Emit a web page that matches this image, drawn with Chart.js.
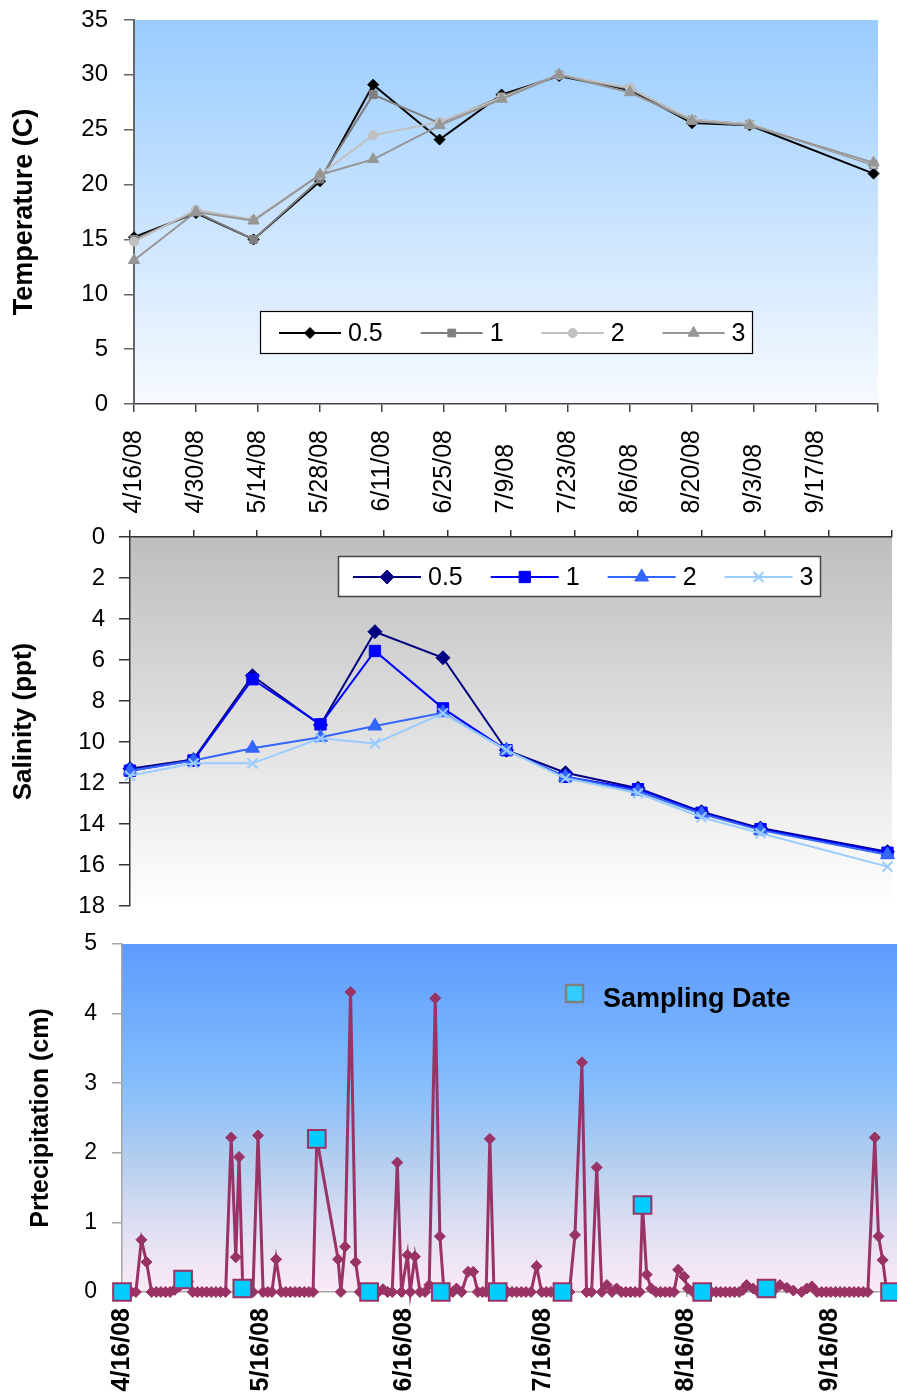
<!DOCTYPE html>
<html>
<head>
<meta charset="utf-8">
<script src="https://cdn.jsdelivr.net/npm/chart.js@4.4.1/dist/chart.umd.min.js"></script>
<style>
html,body{margin:0;padding:0;background:#fff;width:897px;height:1398px;overflow:hidden}
canvas{position:absolute;left:0}
</style>
</head>
<body>
<canvas id="cTemp" width="897" height="530" style="top:0px"></canvas>
<canvas id="cSal" width="897" height="395" style="top:525px"></canvas>
<canvas id="cPrec" width="897" height="468" style="top:930px"></canvas>
<script>
// ---------------- DATA ----------------
const depthLabels = ['0.5', '1', '2', '3'];
const sampleDates = ['2008-04-16','2008-04-30','2008-05-13','2008-05-28','2008-06-09','2008-06-24',
                     '2008-07-08','2008-07-21','2008-08-06','2008-08-20','2008-09-02','2008-09-30'];

const temp05 = [15.2, 17.4, 15.0, 20.3, 29.1, 24.1, 28.2, 29.9, 28.6, 25.6, 25.4, 21.0];
const temp1  = [15.0, 17.5, 15.0, 20.5, 28.2, 25.6, 28.0, 30.0, 28.7, 25.9, 25.5, 21.8];
const temp2  = [14.8, 17.7, 16.8, 20.9, 24.5, 25.7, 27.9, 30.0, 28.8, 25.9, 25.5, 21.9];
const temp3  = [13.1, 17.5, 16.7, 20.9, 22.3, 25.4, 27.8, 30.0, 28.4, 25.8, 25.4, 22.0];

const sal05 = [11.3, 10.85, 6.77, 9.17, 4.62, 5.89, 10.4, 11.5, 12.26, 13.4, 14.2, 15.35];
const sal1  = [11.4, 10.9, 6.94, 9.14, 5.56, 8.36, 10.4, 11.7, 12.3, 13.45, 14.25, 15.4];
const sal2  = [11.4, 10.9, 10.3, 9.77, 9.22, 8.57, 10.4, 11.7, 12.4, 13.5, 14.3, 15.5];
const sal3  = [11.65, 11.04, 11.04, 9.82, 10.07, 8.6, 10.4, 11.77, 12.5, 13.67, 14.45, 16.08];

const tempTickLabels = ['4/16/08','4/30/08','5/14/08','5/28/08','6/11/08','6/25/08',
                        '7/9/08','7/23/08','8/6/08','8/20/08','9/3/08','9/17/08'];
const tempAxisEnd = '10/1/08';

// precipitation: days after 4/16/08 and values (cm)
const precipDay = [0,1,2,3,4.2,5.3,6.4,7.4,8.4,9.4,10.4,11.4,12.4,13.3,14.3,15.3,16.3,17.3,18.3,19.3,20.3,21.3,22.4,
  23.6,24.6,25.3,26.1,27.2,28.3,29.4,30.5,31.5,32.4,33.3,34.4,35.4,36.4,37.4,38.4,39.4,40.4,41.3,42.1,
  46.7,47.3,48.2,49.4,50.5,51.4,52.4,53.4,54.4,55.4,56.4,57.4,58.4,59.5,60.4,61.7,62.3,63.3,64.4,65.5,66.4,67.7,68.7,
  69.6,70.6,71.5,72.3,73.4,74.8,75.9,76.9,77.9,78.7,79.5,80.4,81.3,82.3,83.3,84.3,85.3,86.3,87.3,88.4,89.6,
  90.7,91.7,92.7,93.7,94.7,95.6,96.7,97.9,99.4,100.4,101.5,102.6,103.7,104.8,105.9,106.9,107.9,108.9,109.9,110.9,111.9,
  112.5,113.4,114.4,115.4,116.4,117.4,118.4,119.3,120.2,121.5,122.3,123.4,124.4,125.4,126.4,127.4,128.4,129.4,130.4,
  131.4,132.4,133.4,134.2,135.0,136.4,137.5,138.4,139.3,140.8,142.2,143.7,145.1,146.9,148.0,149.1,150.2,151.2,152.2,
  153.2,154.2,155.2,156.2,157.2,158.2,159.2,160.2,161.2,162.7,163.5,164.4,165.3,166.0];
const precipCm = [0,0,0,0,0.75,0.43,0,0,0,0,0,0.03,0.08,0.18,0.15,0,0,0,0,0,0,0,0,
  2.22,0.5,1.94,0.05,0,0,2.25,0,0,0,0.47,0,0,0,0,0,0,0,0,2.2,
  0.47,0,0.65,4.31,0.43,0,0,0,0,0,0.04,0,0,1.86,0,0.53,0,0.51,0,0,0.1,4.22,0.8,
  0,0,0,0.05,0,0.29,0.29,0,0,0,2.2,0,0,0,0,0,0,0,0,0,0.37,
  0,0,0,0,0,0,0,0.82,3.3,0,0,1.79,0,0.1,0,0.05,0,0,0,0,0,
  1.25,0.25,0.05,0,0,0,0,0,0.32,0.22,0.05,0,0,0,0,0,0,0,0,
  0,0,0,0.03,0.1,0.05,0,0,0.05,0.02,0.1,0.06,0.02,0,0.05,0.08,0,0,0,
  0,0,0,0,0,0,0,0,0,2.22,0.8,0.46,0,0];
const precipSampleDay = [0, 13.2, 26, 42.1, 53.4, 68.9, 81.2, 95.2, 112.5, 125.4, 139.3, 166];
const precipSampleCm  = [0, 0.18, 0.05, 2.2, 0, 0, 0, 0, 1.25, 0, 0.05, 0];
const precipTickLabels = ['4/16/08','5/16/08','6/16/08','7/16/08','8/16/08','9/16/08'];
const precipAxisEndDay = 167.5;

// ---------------- HELPERS ----------------
const BASE = Date.UTC(2008, 3, 16);
function dayOf(s) {
  let y, m, d;
  if (s.indexOf('-') >= 0) { [y, m, d] = s.split('-').map(Number); }
  else { [m, d, y] = s.split('/').map(Number); y += 2000; }
  return Math.round((Date.UTC(y, m - 1, d) - BASE) / 86400000);
}
const sampleDays = sampleDates.map(dayOf);
const tempTickDays = tempTickLabels.map(dayOf);
const tempEnd = dayOf(tempAxisEnd);
const precipTickDays = precipTickLabels.map(dayOf);
const padLabel = (s, n) => s + '  '.repeat(Math.max(0, n - s.length));
const tempLabelLen = Math.max(...tempTickLabels.map(s => s.length));

Chart.defaults.font.family = "'Liberation Sans', Arial, sans-serif";
Chart.defaults.color = '#000';
Chart.defaults.animation = false;
Chart.defaults.responsive = false;
Chart.defaults.devicePixelRatio = 1;
Chart.defaults.events = [];
Chart.defaults.plugins.legend.display = false;
Chart.defaults.plugins.tooltip.enabled = false;

function bgPlugin(stops) {
  return { id: 'plotBg', beforeDraw(chart) {
    const {ctx, chartArea: a} = chart;
    const g = ctx.createLinearGradient(0, a.top, 0, a.bottom);
    stops.forEach(s => g.addColorStop(s[0], s[1]));
    ctx.save(); ctx.fillStyle = g;
    ctx.fillRect(a.left, a.top, a.right - a.left, a.bottom - a.top);
    ctx.restore();
  }};
}

function drawMarker(ctx, style, r, bw, x, y) {
  if (Chart.helpers && Chart.helpers.drawPoint) {
    Chart.helpers.drawPoint(ctx, {pointStyle: style, radius: r, borderWidth: bw, rotation: 0}, x, y);
  } else {
    ctx.beginPath(); ctx.arc(x, y, r, 0, Math.PI * 2); ctx.fill(); ctx.stroke();
  }
}

function lineLegendPlugin(cfg) {
  return { id: 'lineLegend', afterDraw(chart) {
    const ctx = chart.ctx, b = cfg.box;
    ctx.save();
    ctx.fillStyle = '#fff';
    ctx.fillRect(b.x, b.y, b.w, b.h);
    ctx.strokeStyle = cfg.borderColor; ctx.lineWidth = cfg.borderWidth;
    ctx.strokeRect(b.x + 0.5, b.y + 0.5, b.w, b.h);
    ctx.font = cfg.font; ctx.textBaseline = 'middle'; ctx.textAlign = 'left';
    let x = b.x + cfg.padLeft;
    const cy = b.y + b.h / 2 + 1;
    chart.data.datasets.forEach(ds => {
      ctx.strokeStyle = ds.borderColor; ctx.lineWidth = ds.borderWidth;
      ctx.beginPath(); ctx.moveTo(x, cy); ctx.lineTo(x + cfg.lineLen, cy); ctx.stroke();
      ctx.fillStyle = ds.pointBackgroundColor; ctx.strokeStyle = ds.pointBorderColor;
      ctx.lineWidth = ds.pointBorderWidth;
      drawMarker(ctx, ds.pointStyle, ds.pointRadius, ds.pointBorderWidth, x + cfg.lineLen / 2, cy);
      x += cfg.lineLen + cfg.textGap;
      ctx.fillStyle = '#000';
      ctx.fillText(ds.label, x, cy + 1);
      x += ctx.measureText(ds.label).width + cfg.gap;
    });
    ctx.restore();
  }};
}

function seriesDatasets(values, styles, lw) {
  return depthLabels.map((lab, i) => ({
    label: lab,
    data: sampleDays.map((x, j) => ({x: x, y: values[i][j]})),
    borderColor: styles[i].color, backgroundColor: styles[i].color,
    pointBackgroundColor: styles[i].color, pointBorderColor: styles[i].color,
    pointStyle: styles[i].point, pointRadius: styles[i].r, pointBorderWidth: styles[i].bw,
    borderWidth: lw, tension: 0, fill: false, clip: false,
    order: depthLabels.length - i
  }));
}

// ---------------- CHART 1: TEMPERATURE ----------------
const tempStyle = [
  {color: '#000000', point: 'rectRot', r: 5.5, bw: 1},
  {color: '#808080', point: 'rect', r: 5.5, bw: 1},
  {color: '#C0C0C0', point: 'circle', r: 4.5, bw: 1},
  {color: '#969696', point: 'triangle', r: 6.5, bw: 1}
];
new Chart(document.getElementById('cTemp'), {
  type: 'line',
  data: { datasets: seriesDatasets([temp05, temp1, temp2, temp3], tempStyle, 2) },
  options: {
    layout: {autoPadding: false, padding: {top: 20, right: 19, bottom: 0, left: 0}},
    scales: {
      x: {
        type: 'linear', min: 0, max: tempEnd,
        afterBuildTicks: ax => { ax.ticks = tempTickDays.concat([tempEnd]).map(v => ({value: v})); },
        afterFit: ax => { ax.height = 126; ax.paddingLeft = 0; ax.paddingRight = 0; },
        ticks: {
          autoSkip: false, minRotation: 90, maxRotation: 90, padding: 18, font: {size: 25},
          callback: v => { const k = tempTickDays.indexOf(v); return k < 0 ? '' : padLabel(tempTickLabels[k], tempLabelLen); }
        },
        grid: {drawOnChartArea: false, tickLength: 8, color: '#444', lineWidth: 1.5},
        border: {color: '#444', width: 1.5}
      },
      y: {
        min: 0, max: 35,
        afterFit: ax => { ax.width = 134; ax.paddingTop = 0; ax.paddingBottom = 0; },
        ticks: {stepSize: 5, padding: 16, font: {size: 24}},
        grid: {drawOnChartArea: false, tickLength: 10, color: '#666', lineWidth: 1.5},
        border: {color: '#666', width: 2},
        title: {display: true, text: 'Temperature (C)', font: {size: 27, weight: 'bold'}, padding: {top: 8, bottom: 0}}
      }
    }
  },
  plugins: [
    bgPlugin([[0, '#99CCFF'], [1, '#F7FAFF']]),
    lineLegendPlugin({box: {x: 260, y: 311, w: 492, h: 42}, padLeft: 19, lineLen: 62, textGap: 7, gap: 38,
                      font: "25px 'Liberation Sans', Arial, sans-serif", borderColor: '#000', borderWidth: 1.2})
  ]
});

// ---------------- CHART 2: SALINITY ----------------
const salStyle = [
  {color: '#000080', point: 'rectRot', r: 7, bw: 1},
  {color: '#0000FF', point: 'rect', r: 8, bw: 1},
  {color: '#3366FF', point: 'triangle', r: 8, bw: 1},
  {color: '#99CCFF', point: 'crossRot', r: 7, bw: 2}
];
new Chart(document.getElementById('cSal'), {
  type: 'line',
  data: { datasets: seriesDatasets([sal05, sal1, sal2, sal3], salStyle, 2) },
  options: {
    layout: {autoPadding: false, padding: {top: 0, right: 5, bottom: 14, left: 0}},
    scales: {
      x: {
        type: 'linear', position: 'top', min: 0, max: tempEnd,
        afterBuildTicks: ax => { ax.ticks = tempTickDays.concat([tempEnd]).map(v => ({value: v})); },
        afterFit: ax => { ax.height = 12; ax.paddingLeft = 0; ax.paddingRight = 0; },
        ticks: {display: false},
        grid: {drawOnChartArea: false, tickLength: 7, color: '#333', lineWidth: 1.5},
        border: {color: '#333', width: 1.5}
      },
      y: {
        reverse: true, min: 0, max: 18,
        afterFit: ax => { ax.width = 130; ax.paddingTop = 0; ax.paddingBottom = 0; },
        ticks: {stepSize: 2, padding: 14, font: {size: 24}},
        grid: {drawOnChartArea: false, tickLength: 11, color: '#333', lineWidth: 1.5},
        border: {color: '#333', width: 1.5},
        title: {display: true, text: 'Salinity (ppt)', font: {size: 26, weight: 'bold'}, padding: {top: 8, bottom: 0}}
      }
    }
  },
  plugins: [
    bgPlugin([[0, '#BEBEBE'], [1, '#FFFFFF']]),
    lineLegendPlugin({box: {x: 338, y: 31, w: 482, h: 40}, padLeft: 15, lineLen: 68, textGap: 7, gap: 28,
                      font: "25px 'Liberation Sans', Arial, sans-serif", borderColor: '#444', borderWidth: 1.5})
  ]
});

// ---------------- CHART 3: PRECIPITATION ----------------
const precipLegendPlugin = {
  id: 'precipLegend',
  afterDraw(chart) {
    const ctx = chart.ctx;
    const ds = chart.data.datasets[1];
    ctx.save();
    ctx.fillStyle = '#33CCFF'; ctx.strokeStyle = '#808080'; ctx.lineWidth = 2.5;
    ctx.fillRect(566, 55, 17, 17); ctx.strokeRect(566, 55, 17, 17);
    ctx.fillStyle = '#000'; ctx.textBaseline = 'middle'; ctx.textAlign = 'left';
    ctx.font = "bold 27px 'Liberation Sans', Arial, sans-serif";
    ctx.fillText(ds.label, 603, 70);
    ctx.restore();
  }
};
new Chart(document.getElementById('cPrec'), {
  type: 'line',
  data: { datasets: [
    { label: 'Precipitation',
      data: precipDay.map((x, i) => ({x: x, y: precipCm[i]})),
      borderColor: '#993366', backgroundColor: '#993366',
      pointBackgroundColor: '#993366', pointBorderColor: '#993366',
      pointStyle: 'rectRot', pointRadius: 5.5, pointBorderWidth: 1,
      borderWidth: 3, tension: 0, fill: false, clip: false, order: 1 },
    { label: 'Sampling Date',
      data: precipSampleDay.map((x, i) => ({x: x, y: precipSampleCm[i]})),
      showLine: false,
      borderColor: '#993366', backgroundColor: '#00CCFF',
      pointBackgroundColor: '#00CCFF', pointBorderColor: '#993366',
      pointStyle: 'rect', pointRadius: 12.5, pointBorderWidth: 2,
      clip: false, order: 0 }
  ]},
  options: {
    layout: {autoPadding: false, padding: {top: 14, right: 0, bottom: 0, left: 0}},
    scales: {
      x: {
        type: 'linear', min: 0, max: precipAxisEndDay,
        afterBuildTicks: ax => { ax.ticks = precipTickDays.map(v => ({value: v})); },
        afterFit: ax => { ax.height = 106; ax.paddingLeft = 0; ax.paddingRight = 0; },
        ticks: {
          autoSkip: false, minRotation: 90, maxRotation: 90, padding: 11,
          font: {size: 25, weight: 'bold'},
          callback: v => { const k = precipTickDays.indexOf(v); return k < 0 ? '' : precipTickLabels[k]; }
        },
        grid: {drawOnChartArea: false, tickLength: 5, color: '#A6A6A6', lineWidth: 1.5},
        border: {color: '#A6A6A6', width: 1.5}
      },
      y: {
        min: 0, max: 5,
        afterFit: ax => { ax.width = 122; ax.paddingTop = 0; ax.paddingBottom = 0; },
        ticks: {stepSize: 1, padding: 15, font: {size: 23}},
        grid: {drawOnChartArea: false, tickLength: 10, color: '#A6A6A6', lineWidth: 1.5},
        border: {color: '#A6A6A6', width: 1.5},
        title: {display: true, text: 'Prtecipitation (cm)', font: {size: 25, weight: 'bold'}, padding: {top: 26, bottom: 0}}
      }
    }
  },
  plugins: [
    bgPlugin([[0, '#5D9BFE'], [0.4, '#84BDFC'], [0.6, '#AFCCEF'], [0.8, '#DCDEF2'], [1, '#FCEAF6']]),
    precipLegendPlugin
  ]
});
</script>
</body>
</html>
